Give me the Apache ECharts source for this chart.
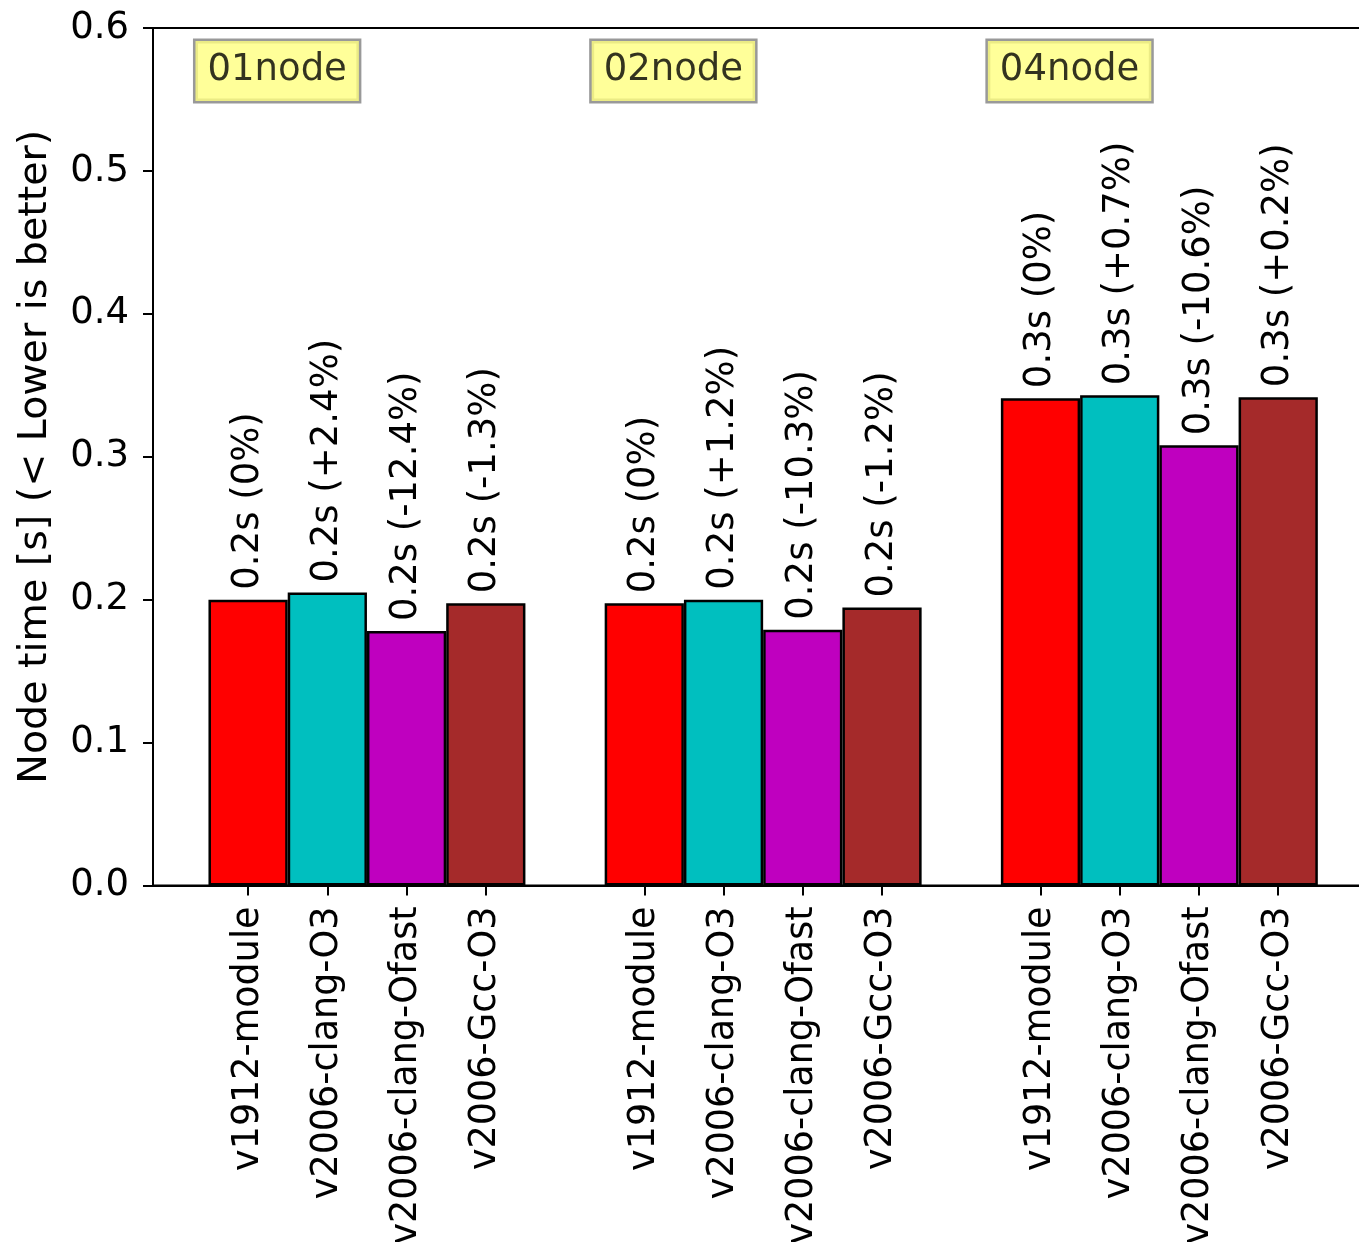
<!DOCTYPE html>
<html>
<head>
<meta charset="utf-8">
<script src="https://cdn.jsdelivr.net/npm/echarts@6/dist/echarts.min.js"></script>
<style>
  html, body { margin: 0; padding: 0; background: #fff; }
  #chart { width: 1359px; height: 1242px; }
</style>
</head>
<body>
<div id="chart"></div>
<script>
// ---- data ----
const groups = ['01node', '02node', '04node'];
const configs = ['v1912-module', 'v2006-clang-O3', 'v2006-clang-Ofast', 'v2006-Gcc-O3'];
const v1912Module = [0.200, 0.1975, 0.341];
const v2006ClangO3 = [0.205, 0.200, 0.343];
const v2006ClangOfast = [0.178, 0.179, 0.308];
const v2006GccO3 = [0.1975, 0.1945, 0.3417];
const labelsV1912Module = ['0.2s (0%)', '0.2s (0%)', '0.3s (0%)'];
const labelsV2006ClangO3 = ['0.2s (+2.4%)', '0.2s (+1.2%)', '0.3s (+0.7%)'];
const labelsV2006ClangOfast = ['0.2s (-12.4%)', '0.2s (-10.3%)', '0.3s (-10.6%)'];
const labelsV2006GccO3 = ['0.2s (-1.3%)', '0.2s (-1.2%)', '0.3s (+0.2%)'];
const yTicks = [0, 0.1, 0.2, 0.3, 0.4, 0.5, 0.6];
const yTitle = 'Node time [s] (< Lower is better)';

// ---- build ----
const seriesValues = [v1912Module, v2006ClangO3, v2006ClangOfast, v2006GccO3];
const seriesLabels = [labelsV1912Module, labelsV2006ClangO3, labelsV2006ClangOfast, labelsV2006GccO3];
const colors = ['#ff0000', '#00bfbf', '#bf00bf', '#a52a2a'];
const SLOT = 5; // bars per group incl. gap
const FONT = 'DejaVu Sans';
const FS = 37;

const tickPositions = [];
groups.forEach((g, gi) => configs.forEach((c, ci) => tickPositions.push(gi * SLOT + ci)));

const chart = echarts.init(document.getElementById('chart'), null, { renderer: 'canvas' });

const gridLeft = 153, gridTop = 28, gridHeight = 857.5;
const xMin = -1.2, xMax = 14.2;
const unitPx = 79.24;
const gridWidth = (xMax - xMin) * unitPx;

const barSeries = configs.map((c, ci) => ({
  type: 'bar',
  name: c,
  barWidth: unitPx,
  barGap: '-100%',
  data: seriesValues[ci].map((v, gi) => [gi * SLOT + ci, v]),
  itemStyle: { color: colors[ci], borderColor: '#000', borderWidth: 2.5 },
  label: {
    show: true,
    position: 'top',
    distance: 10,
    rotate: 90,
    align: 'left',
    verticalAlign: 'middle',
    fontFamily: FONT,
    fontSize: FS,
    color: '#000',
    formatter: (p) => seriesLabels[ci][p.dataIndex]
  },
  emphasis: { disabled: true },
  animation: false
}));

const groupLabelSeries = {
  type: 'scatter',
  symbolSize: 0,
  silent: true,
  itemStyle: { color: 'transparent' },
  data: groups.map((g, gi) => [gi * SLOT - 0.5, 0.570]),
  label: {
    show: true,
    position: [0, 0],
    align: 'left',
    verticalAlign: 'middle',
    offset: [-13, 0],
    fontFamily: FONT,
    fontSize: FS,
    lineHeight: 42,
    color: '#000',
    backgroundColor: '#ffff80',
    borderColor: '#7f7f7f',
    borderWidth: 2.5,
    padding: [9, 12, 9, 12],
    formatter: (p) => groups[p.dataIndex]
  },
  animation: false,
  z: 5
};

chart.setOption({
  animation: false,
  backgroundColor: '#fff',
  grid: {
    left: gridLeft, top: gridTop, width: gridWidth, height: gridHeight,
    outerBoundsMode: 'none',
    containLabel: false,
    show: true, borderColor: '#000', borderWidth: 2, backgroundColor: 'transparent'
  },
  xAxis: {
    type: 'value',
    min: xMin,
    max: xMax,
    splitLine: { show: false },
    axisLine: { show: true, onZero: false, lineStyle: { color: '#000', width: 2 } },
    axisTick: { show: true, customValues: tickPositions, length: 10, lineStyle: { color: '#000', width: 2 } },
    axisLabel: {
      customValues: tickPositions,
      rotate: 90,
      margin: 21,
      fontFamily: FONT,
      fontSize: 36.5,
      color: '#000',
      formatter: (v) => configs[Math.round(v) % SLOT]
    }
  },
  yAxis: {
    type: 'value',
    min: 0,
    max: 0.6,
    interval: 0.1,
    name: yTitle,
    nameLocation: 'middle',
    nameRotate: 90,
    nameGap: 97,
    nameTextStyle: { fontFamily: FONT, fontSize: 39.5, color: '#000' },
    splitLine: { show: false },
    axisLine: { show: true, onZero: false, lineStyle: { color: '#000', width: 2 } },
    axisTick: { show: true, length: 10, lineStyle: { color: '#000', width: 2 } },
    axisLabel: {
      margin: 24,
      fontFamily: FONT,
      fontSize: FS,
      color: '#000',
      customValues: yTicks,
      formatter: (v) => v.toFixed(1)
    }
  },
  series: barSeries.concat([groupLabelSeries])
});
</script>
</body>
</html>
